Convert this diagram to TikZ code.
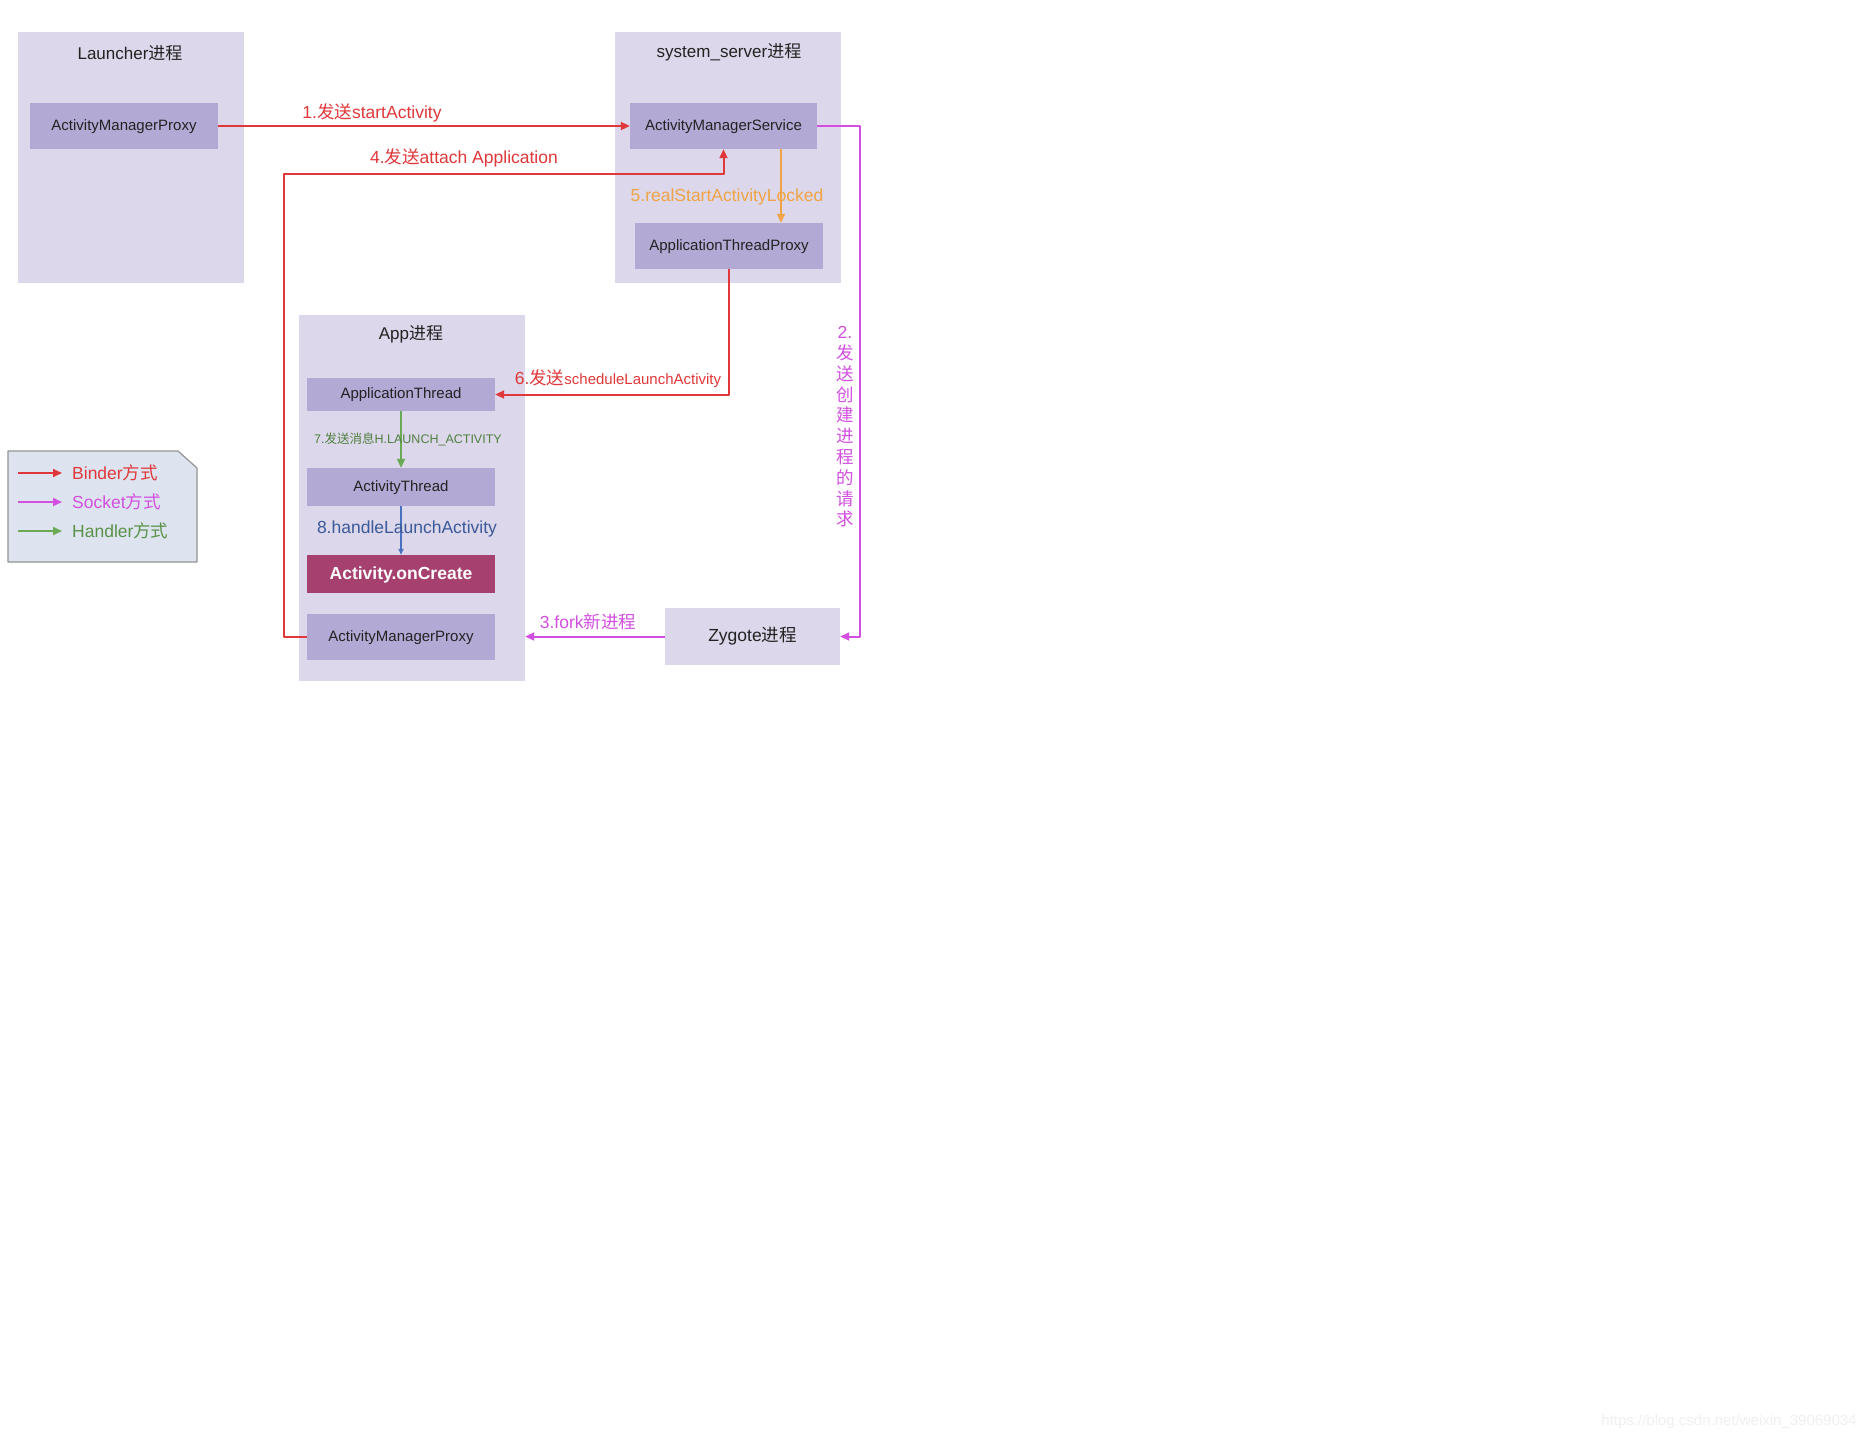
\documentclass[tikz,border=0pt]{standalone}
\usepackage{fontspec}
\setmainfont{Liberation Sans}
\newfontfamily\cjk{Noto Sans CJK SC}
\newcommand\zhs[1]{{\cjk #1}}
\usetikzlibrary{arrows.meta}
\definecolor{procfill}{HTML}{DCD7EA}
\definecolor{boxfill}{HTML}{B3A9D5}
\definecolor{boxtext}{HTML}{222222}
\definecolor{createfill}{HTML}{A6416F}
\definecolor{legfill}{HTML}{DDE4F0}
\definecolor{binderred}{HTML}{E0383A}
\definecolor{socketpink}{HTML}{D24FE0}
\definecolor{handlergreen}{HTML}{6AAA55}
\definecolor{realorange}{HTML}{F0A445}
\definecolor{handleblue}{HTML}{4A70C0}

\begin{document}
\begin{tikzpicture}[x=1pt, y=-1pt, line join=round,
  proc/.style={fill=procfill, inner sep=0pt},
  box/.style={fill=boxfill, inner sep=0pt, minimum width=188pt, text=boxtext, text height=9pt, text depth=1pt, font=\fontsize{15}{18}\selectfont},
  ttl/.style={text=boxtext, inner sep=0pt, font=\fontsize{17}{20}\selectfont},
  lbl/.style={inner sep=0pt, font=\fontsize{17.5}{21}\selectfont},
  tip/.style={-{Triangle[length=9pt,width=8pt]}},
  binder/.style={draw=binderred, line width=2pt, tip},
  socket/.style={draw=socketpink, line width=2pt, tip},
  handler/.style={draw=handlergreen, line width=1.8pt, tip}]
\fill[white] (0,0) rectangle (1874,1440);
\useasboundingbox (0,0) rectangle (1874,1440);
% processes
\node[proc, minimum width=226pt, minimum height=251pt] (launcher) at (131,157.5) {};
\node[proc, minimum width=226pt, minimum height=251pt] (sysserver) at (728,157.5) {};
\node[proc, minimum width=226pt, minimum height=366pt] (app) at (412,498) {};
\node[ttl] (launcherT) at (130,53) {Launcher\zhs{进程}};
\node[ttl] (sysserverT) at (729,52) {system\_server\zhs{进程}};
\node[ttl] (appT) at (411,334) {App\zhs{进程}};
% inner boxes
\node[box, minimum height=46pt] (lamp) at (124,126) {ActivityManagerProxy};
\node[box, minimum width=187pt, minimum height=46pt] (ams) at (723.5,126) {ActivityManagerService};
\node[box, minimum height=46pt] (atp) at (729,246) {ApplicationThreadProxy};
\node[box, minimum height=33pt] (at) at (401,394.5) {ApplicationThread};
\node[box, minimum height=38pt] (athr) at (401,487) {ActivityThread};
\node[box, minimum height=38pt, fill=createfill, text=white, text height=11pt, font=\fontsize{17.5}{21}\selectfont\bfseries] (create) at (401,574) {Activity.onCreate};
\node[box, minimum height=46pt] (aamp) at (401,637) {ActivityManagerProxy};
\node[proc, minimum width=175pt, minimum height=57pt, text=boxtext, font=\fontsize{17.5}{21}\selectfont] (zyg) at (752.5,636.5) {Zygote\zhs{进程}};
% bends
\coordinate (c4) at (284,174);
\coordinate (c2) at (860,400);
\coordinate (c5) at (781,0);
% connectors
\draw[binder] (lamp.east) -- (ams.west);
\draw[socket] (ams.east) -| (c2) |- (zyg.east);
\draw[socket] (zyg.west) -- (app.east |- zyg.west);
\draw[binder] (aamp.west) -| (c4) -| (ams.south);
\draw[draw=realorange, line width=1.8pt, tip] (ams.south -| c5) -- (atp.north -| c5);
\draw[binder] (atp.south) |- (at.east);
\draw[handler] (at.south) -- (athr.north);
\draw[draw=handleblue, line width=1.3pt, -{Triangle[length=6pt,width=5pt]}] (athr.south) -- (create.north);
% labels
\node[lbl, text=binderred] (l1) at (372,113) {1.\zhs{发送}startActivity};
\node[lbl, text=socketpink, align=center, font=\fontsize{17.5}{20.8}\selectfont] (l2) at (845,427) {2.\\\zhs{发}\\\zhs{送}\\\zhs{创}\\\zhs{建}\\\zhs{进}\\\zhs{程}\\\zhs{的}\\\zhs{请}\\\zhs{求}};
\node[lbl, text=socketpink] (l3) at (588,622) {3.fork\zhs{新进程}};
\node[lbl, text=binderred] (l4) at (464,158) {4.\zhs{发送}attach Application};
\node[lbl, text=realorange] (l5) at (727,197) {5.realStartActivityLocked};
\node[lbl, text=binderred] (l6) at (618,379) {6.\zhs{发送}{\fontsize{15}{18}\selectfont scheduleLaunchActivity}};
\node[lbl, text=handlergreen!75!black, font=\fontsize{12.5}{15}\selectfont] (l7) at (408,439) {7.\zhs{发送消息}H.LAUNCH\_ACTIVITY};
\node[lbl, text=handleblue!80!black] (l8) at (407,529) {8.handleLaunchActivity};
% legend
\draw[fill=legfill, draw=gray!85, line width=1.2pt] (8,451) -- (178,451) -- (197,468) -- (197,562) -- (8,562) -- cycle;
\node[lbl, anchor=west, text=binderred] (legB) at (72,473) {Binder\zhs{方式}};
\node[lbl, anchor=west, text=socketpink] (legS) at (72,502) {Socket\zhs{方式}};
\node[lbl, anchor=west, text=handlergreen!85!black] (legH) at (72,531) {Handler\zhs{方式}};
\coordinate (legB0) at (18,473);
\coordinate (legS0) at (18,502);
\coordinate (legH0) at (18,531);
\draw[binder] (legB0) -- ([xshift=-10pt]legB.west);
\draw[socket] (legS0) -- ([xshift=-10pt]legS.west);
\draw[handler] (legH0) -- ([xshift=-10pt]legH.west);
\node[text=gray!12, font=\fontsize{15}{18}\selectfont] (mark) at (1729,1422) {https://blog.csdn.net/weixin\_39069034};
\end{tikzpicture}
\end{document}
